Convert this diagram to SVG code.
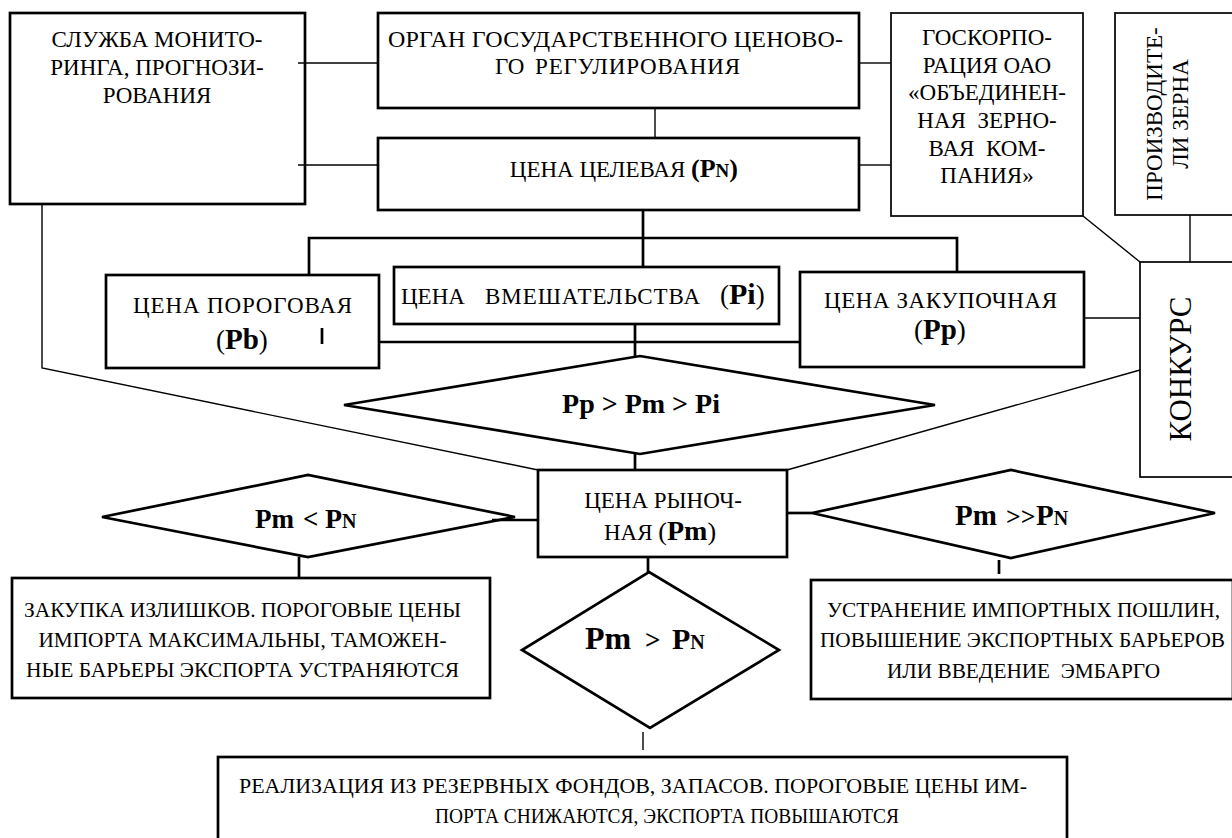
<svg xmlns="http://www.w3.org/2000/svg" width="1232" height="838" viewBox="0 0 1232 838" font-family="'Liberation Serif', 'Times New Roman', serif">
<style>
.bx{fill:#fff;stroke:#000;stroke-width:2.7}
.bt{fill:#fff;stroke:#000;stroke-width:1.7}
.c{fill:none;stroke:#000;stroke-width:1.4}
.ck{fill:none;stroke:#000;stroke-width:2.7}
text{font-family:'Liberation Serif','Times New Roman',serif;fill:#000}
.t{font-size:23px}
.s{font-size:21px}
.b{font-weight:bold}
.m{text-anchor:middle}
.e{text-anchor:end}
</style>
<rect width="1232" height="838" fill="#fff"/>
<g id="n-sluzhba">
<rect class="bx" x="10" y="13" width="295" height="191"/>
<text class="t m" x="157" y="47">СЛУЖБА МОНИТО-</text>
<text class="t m" x="157" y="75">РИНГА, ПРОГНОЗИ-</text>
<text class="t m" x="157" y="103">РОВАНИЯ</text>
</g>
<g id="n-organ">
<rect class="bx" x="378" y="13" width="481" height="95"/>
<text x="388" y="47" font-size="24" textLength="455">ОРГАН ГОСУДАРСТВЕННОГО ЦЕНОВО-</text>
<text class="t" y="74"><tspan x="495">ГО</tspan><tspan x="535" textLength="205">РЕГУЛИРОВАНИЯ</tspan></text>
</g>
<g id="n-celevaya">
<rect class="bx" x="378" y="138" width="481" height="72"/>
<text class="t e" x="738" y="177">ЦЕНА ЦЕЛЕВАЯ <tspan class="b" font-size="26">(P</tspan><tspan class="b" font-size="19">N</tspan><tspan class="b" font-size="26">)</tspan></text>
</g>
<g id="n-goskorp">
<rect class="bt" x="891" y="13" width="192" height="203"/>
<text class="t m" x="987" y="45">ГОСКОРПО-</text>
<text class="t m" x="987" y="73">РАЦИЯ ОАО</text>
<text class="t m" x="987" y="100">«ОБЪЕДИНЕН-</text>
<text class="t m" x="987" y="128" xml:space="preserve">НАЯ  ЗЕРНО-</text>
<text class="t m" x="987" y="156" xml:space="preserve">ВАЯ  КОМ-</text>
<text class="t m" x="987" y="183">ПАНИЯ»</text>
</g>
<g id="n-proizv">
<rect class="bt" x="1115" y="13" width="118" height="202"/>
<text class="t m" transform="translate(1162,114) rotate(-90)">ПРОИЗВОДИТЕ-</text>
<text class="t m" transform="translate(1188,114) rotate(-90)">ЛИ ЗЕРНА</text>
</g>
<g id="n-porog">
<rect class="bx" x="106" y="275" width="273" height="93"/>
<text class="t" x="133" y="313" textLength="219">ЦЕНА ПОРОГОВАЯ</text>
<text x="216" y="349"><tspan font-size="27">(</tspan><tspan class="b" font-size="29">Pb</tspan><tspan font-size="27">)</tspan></text>
</g>
<g id="n-vmesh">
<rect class="bx" x="394" y="267" width="385" height="57"/>
<text class="t" y="304"><tspan x="401">ЦЕНА</tspan><tspan x="485" textLength="215">ВМЕШАТЕЛЬСТВА</tspan><tspan x="720" font-size="27">(</tspan><tspan class="b" font-size="30">Pi</tspan><tspan font-size="27">)</tspan></text>
</g>
<g id="n-zakup">
<rect class="bx" x="800" y="272" width="284" height="95"/>
<text class="t" x="824" y="308" textLength="233">ЦЕНА ЗАКУПОЧНАЯ</text>
<text x="914" y="339"><tspan font-size="27">(</tspan><tspan class="b" font-size="29">Pp</tspan><tspan font-size="27">)</tspan></text>
</g>
<g id="n-konkurs">
<rect class="bt" x="1140" y="262" width="94" height="215"/>
<text class="m" font-size="31" transform="translate(1191,369) rotate(-90)">КОНКУРС</text>
</g>
<g id="n-cond1">
<polygon class="bx" points="344,405 640,356 935,405 640,454"/>
<text class="m b" x="641" y="413" font-size="28">Pp &gt; Pm &gt; Pi</text>
</g>
<g id="n-rynok">
<rect class="bx" x="538" y="470" width="249" height="87"/>
<text class="t m" x="663" y="508">ЦЕНА РЫНОЧ-</text>
<text class="t" x="604" y="540">НАЯ <tspan font-size="26">(</tspan><tspan class="b" font-size="28">Pm</tspan><tspan font-size="26">)</tspan></text>
</g>
<g id="n-cond-less">
<polygon class="bx" points="102,517 308,475 515,517 308,557"/>
<text class="b" y="528"><tspan x="255" font-size="27">Pm</tspan><tspan x="303" font-size="27">&lt;</tspan><tspan x="325" font-size="28">P</tspan><tspan font-size="20">N</tspan></text>
</g>
<g id="n-cond-much">
<polygon class="bx" points="812,513 1011,470 1215,513 1011,558"/>
<text class="b" y="525"><tspan x="955" font-size="29">Pm</tspan><tspan x="1006" font-size="26">&gt;&gt;</tspan><tspan x="1036" font-size="29">P</tspan><tspan font-size="20">N</tspan></text>
</g>
<g id="n-cond-more">
<polygon class="bx" points="649,572 779,650 650,728 522,650"/>
<text class="b" y="649"><tspan x="585" font-size="32">Pm</tspan><tspan x="645" font-size="27">&gt;</tspan><tspan x="672" font-size="30">P</tspan><tspan font-size="20">N</tspan></text>
</g>
<g id="n-zakupka">
<rect class="bx" x="12" y="578" width="478" height="120"/>
<text class="m s" x="242.5" y="617" textLength="437" lengthAdjust="spacingAndGlyphs">ЗАКУПКА ИЗЛИШКОВ. ПОРОГОВЫЕ ЦЕНЫ</text>
<text class="m s" x="242.5" y="647" textLength="408" lengthAdjust="spacingAndGlyphs">ИМПОРТА МАКСИМАЛЬНЫ, ТАМОЖЕН-</text>
<text class="m s" x="242.5" y="677" textLength="433" lengthAdjust="spacingAndGlyphs">НЫЕ БАРЬЕРЫ ЭКСПОРТА УСТРАНЯЮТСЯ</text>
</g>
<g id="n-ustran">
<rect class="bx" x="811" y="580" width="422" height="119"/>
<text class="s" x="827" y="617" textLength="393" lengthAdjust="spacingAndGlyphs">УСТРАНЕНИЕ ИМПОРТНЫХ ПОШЛИН,</text>
<text class="s" x="820" y="647" textLength="405" lengthAdjust="spacingAndGlyphs">ПОВЫШЕНИЕ ЭКСПОРТНЫХ БАРЬЕРОВ</text>
<text class="s" x="887" y="678" textLength="273" lengthAdjust="spacingAndGlyphs" xml:space="preserve">ИЛИ ВВЕДЕНИЕ  ЭМБАРГО</text>
</g>
<g id="n-realiz">
<rect class="bx" x="218" y="757" width="849" height="90"/>
<text class="s" x="239" y="793" textLength="788" lengthAdjust="spacingAndGlyphs">РЕАЛИЗАЦИЯ ИЗ РЕЗЕРВНЫХ ФОНДОВ, ЗАПАСОВ. ПОРОГОВЫЕ ЦЕНЫ ИМ-</text>
<text class="s" x="435" y="823" textLength="464" lengthAdjust="spacingAndGlyphs">ПОРТА СНИЖАЮТСЯ, ЭКСПОРТА ПОВЫШАЮТСЯ</text>
</g>
<g id="connectors">
<line class="c" x1="298" y1="63" x2="378" y2="63"/>
<line class="c" x1="298" y1="165" x2="378" y2="165"/>
<line class="c" x1="655" y1="108" x2="655" y2="138"/>
<line class="c" x1="859" y1="63" x2="891" y2="63"/>
<line class="c" x1="859" y1="165" x2="891" y2="165"/>
<line class="ck" x1="643" y1="210" x2="643" y2="267"/>
<polyline class="ck" points="309,275 309,238 957,238 957,272"/>
<line class="ck" x1="379" y1="342" x2="800" y2="342"/>
<line class="ck" x1="322" y1="328" x2="322" y2="344"/>
<line class="ck" x1="635" y1="324" x2="635" y2="356"/>
<line class="ck" x1="635" y1="454" x2="635" y2="470"/>
<polyline class="c" points="42,204 42,368 538,470"/>
<line class="c" x1="1083" y1="216" x2="1140" y2="262"/>
<line class="c" x1="1190" y1="215" x2="1190" y2="262"/>
<line class="c" x1="1084" y1="318" x2="1140" y2="318"/>
<line class="c" x1="1140" y1="370" x2="787" y2="470"/>
<line class="ck" x1="492" y1="520" x2="538" y2="520"/>
<line class="ck" x1="787" y1="513" x2="812" y2="513"/>
<line class="ck" x1="299" y1="557" x2="299" y2="578"/>
<line class="ck" x1="999" y1="560" x2="999" y2="574"/>
<line class="ck" x1="648" y1="557" x2="648" y2="572"/>
<line class="c" x1="643" y1="732" x2="643" y2="750"/>
</g>
</svg>
